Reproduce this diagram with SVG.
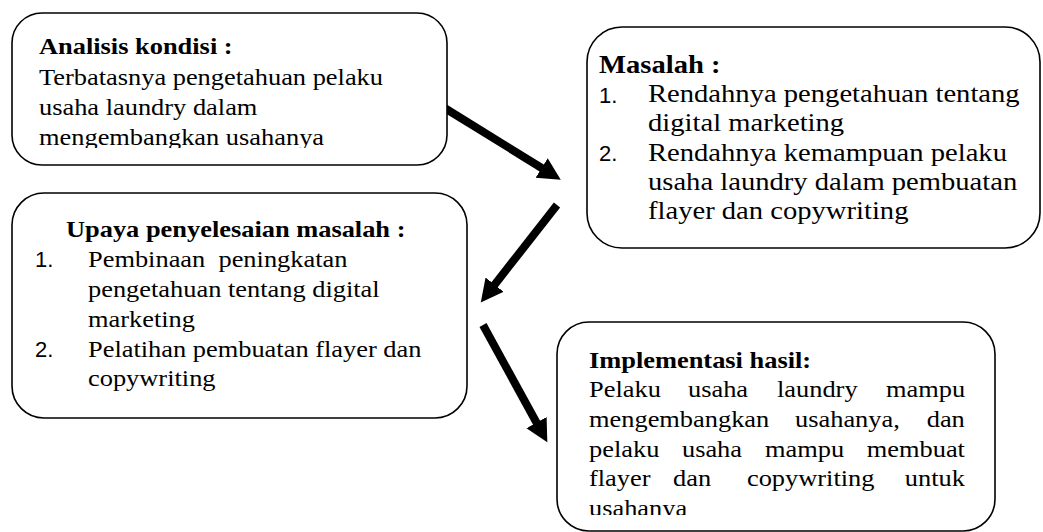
<svg xmlns="http://www.w3.org/2000/svg" width="1043" height="532" viewBox="0 0 1043 532">
<style>
.box{fill:#fff;stroke:#000;stroke-width:1.6}
.t{font-family:"Liberation Serif","Times New Roman",serif;font-size:24px;fill:#000;white-space:pre}
.t2{font-size:26px}
.b{font-weight:bold}
.n{font-family:"Liberation Sans",Arial,sans-serif;font-size:22px;fill:#000}
.arr{stroke:#000;stroke-width:8;fill:none}
</style>
<defs>
<marker id="ah" markerUnits="userSpaceOnUse" markerWidth="24" markerHeight="26" refX="1" refY="13" orient="auto">
<path d="M0,1.5 L22.5,13 L0,24.5 z" fill="#000"/>
</marker>
<clipPath id="c1"><rect x="0" y="0" width="460" height="148"/></clipPath>
<clipPath id="c2"><rect x="580" y="0" width="463" height="224"/></clipPath>
<clipPath id="c4"><rect x="550" y="300" width="460" height="215"/></clipPath>
</defs>
<g id="connectors">
<line class="arr" x1="443" y1="107" x2="542.5" y2="168.5" marker-end="url(#ah)"/>
<line class="arr" x1="557" y1="205" x2="494" y2="285.5" marker-end="url(#ah)"/>
<line class="arr" x1="483" y1="325" x2="537" y2="423.5" marker-end="url(#ah)"/>
</g>
<g id="analisis">
<rect class="box" x="12" y="13" width="435" height="152" rx="30"/>
<g clip-path="url(#c1)">
<g transform="matrix(1.1,0,0,1,39,0)">
<text class="t b" x="0" y="54">Analisis kondisi :</text>
<text class="t" x="0" y="85">Terbatasnya pengetahuan pelaku</text>
<text class="t" x="0" y="115.5">usaha laundry dalam</text>
<text class="t" x="0" y="145.5">mengembangkan usahanya</text>
</g>
</g>
</g>
<g id="masalah">
<rect class="box" x="587" y="27" width="453" height="221" rx="35"/>
<text class="n" x="599" y="102.5">1.</text>
<text class="n" x="599" y="161">2.</text>
<g clip-path="url(#c2)">
<g transform="matrix(1.1,0,0,1,599,0)">
<text class="t t2 b" x="0" y="73">Masalah :</text>
</g>
<g transform="matrix(1.1,0,0,1,648,0)">
<text class="t t2" x="0" y="102.5">Rendahnya pengetahuan tentang</text>
<text class="t t2" x="0" y="131.5">digital marketing</text>
<text class="t t2" x="0" y="161">Rendahnya kemampuan pelaku</text>
<text class="t t2" x="0" y="190">usaha laundry dalam pembuatan</text>
<text class="t t2" x="0" y="219.5">flayer dan copywriting</text>
</g>
</g>
</g>
<g id="upaya">
<rect class="box" x="12" y="193" width="455" height="225" rx="32"/>
<text class="n" x="35" y="267">1.</text>
<text class="n" x="35" y="357">2.</text>
<g transform="matrix(1.1,0,0,1,66,0)">
<text class="t b" x="0" y="237">Upaya penyelesaian masalah :</text>
</g>
<g transform="matrix(1.1,0,0,1,88,0)">
<text class="t" x="0" y="267">Pembinaan  peningkatan</text>
<text class="t" x="0" y="297">pengetahuan tentang digital</text>
<text class="t" x="0" y="327">marketing</text>
<text class="t" x="0" y="357">Pelatihan pembuatan flayer dan</text>
<text class="t" x="0" y="386">copywriting</text>
</g>
</g>
<g id="implementasi">
<rect class="box" x="557" y="322" width="438" height="209" rx="32"/>
<g clip-path="url(#c4)">
<g transform="matrix(1.1,0,0,1,589,0)">
<text class="t b" x="0" y="368">Implementasi hasil:</text>
<text class="t" y="397"><tspan x="0">Pelaku</tspan><tspan x="90">usaha</tspan><tspan x="170.9">laundry</tspan><tspan x="270">mampu</tspan></text>
<text class="t" y="427"><tspan x="0">mengembangkan</tspan><tspan x="187.3">usahanya,</tspan><tspan x="307">dan</tspan></text>
<text class="t" y="457"><tspan x="0">pelaku</tspan><tspan x="84.5">usaha</tspan><tspan x="160">mampu</tspan><tspan x="252.5">membuat</tspan></text>
<text class="t" y="486"><tspan x="0">flayer</tspan><tspan x="76.4">dan</tspan><tspan x="143.6">copywriting</tspan><tspan x="287.1">untuk</tspan></text>
<text class="t" x="0" y="516">usahanya</text>
</g>
</g>
</g>
</svg>
